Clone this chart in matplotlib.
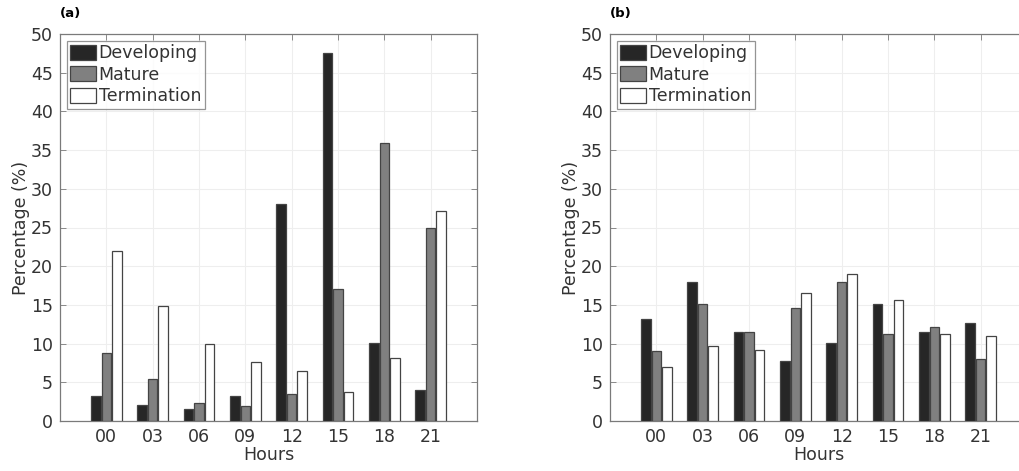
import matplotlib
matplotlib.use("Agg")
import matplotlib.pyplot as plt
import numpy as np
from matplotlib.patches import Patch

hours = ["00", "03", "06", "09", "12", "15", "18", "21"]
series_names = ["Developing", "Mature", "Termination"]

a_developing = [3.2, 2.1, 1.5, 3.2, 28.0, 47.6, 10.1, 4.0]
a_mature = [8.8, 5.4, 2.3, 2.0, 3.5, 17.1, 35.9, 24.9]
a_termination = [21.9, 14.8, 9.9, 7.6, 6.5, 3.8, 8.2, 27.1]

b_developing = [13.2, 17.9, 11.5, 7.8, 10.1, 15.1, 11.5, 12.6]
b_mature = [9.1, 15.1, 11.5, 14.6, 18.0, 11.3, 12.1, 8.0]
b_termination = [7.0, 9.7, 9.2, 16.6, 19.0, 15.6, 11.3, 11.0]

colors = ["#262626", "#808080", "#ffffff"]
edge = "#444444"
text_c = "#333333"
spine_c = "#7a7a7a"

plt.rcParams["font.family"] = ["DejaVu Sans"]

fig = plt.figure(figsize=(10.2, 4.71), dpi=100)
W, H = 1020, 471

def make_ax(left_px, label, data, show_right=True):
    ax = fig.add_axes([left_px / W, (H - 421) / H, 417 / W, (421 - 34) / H])
    x = np.arange(1, len(hours) + 1)
    offs = [-0.227, 0.0, 0.227]
    for vals, off, c in zip(data, offs, colors):
        ax.bar(x + off, vals, width=0.205, color=c, edgecolor=edge, linewidth=0.9, zorder=3)
    ax.set_xlim(0, 9)
    ax.set_ylim(0, 50)
    ax.set_xticks(x)
    ax.set_xticklabels(hours)
    ax.set_yticks(np.arange(0, 51, 5))
    ax.grid(True, color="#eeeeee", linewidth=0.8, zorder=0)
    ax.tick_params(direction="in", length=4, width=0.6, color=spine_c, labelsize=12.5,
                   labelcolor=text_c, top=True, right=show_right, pad=5)
    for s in ax.spines.values():
        s.set_color(spine_c)
        s.set_linewidth(0.9)
    if not show_right:
        ax.spines["right"].set_visible(False)
    ax.set_xlabel("Hours", fontsize=12.5, color=text_c, labelpad=0)
    ax.set_ylabel("Percentage (%)", fontsize=12.5, color=text_c, labelpad=1)
    handles = [Patch(facecolor=c, edgecolor=edge, linewidth=0.9) for c in colors]
    leg = ax.legend(handles, series_names, loc="upper left", fontsize=12.5,
                    frameon=True, fancybox=False, borderpad=0.2, labelspacing=0.2,
                    handlelength=1.5, handleheight=0.95, handletextpad=0.12,
                    borderaxespad=0.4)
    leg.get_frame().set_edgecolor(spine_c)
    leg.get_frame().set_linewidth(0.9)
    for t in leg.get_texts():
        t.set_color(text_c)
    fig.text(left_px / W, 1 - 13 / H, label, fontsize=9.5, fontweight="bold",
             color="black", va="center", ha="left")
    return ax

make_ax(60, "(a)", [a_developing, a_mature, a_termination])
make_ax(610, "(b)", [b_developing, b_mature, b_termination], show_right=False)

fig.savefig("out.png", dpi=100, facecolor="white")
